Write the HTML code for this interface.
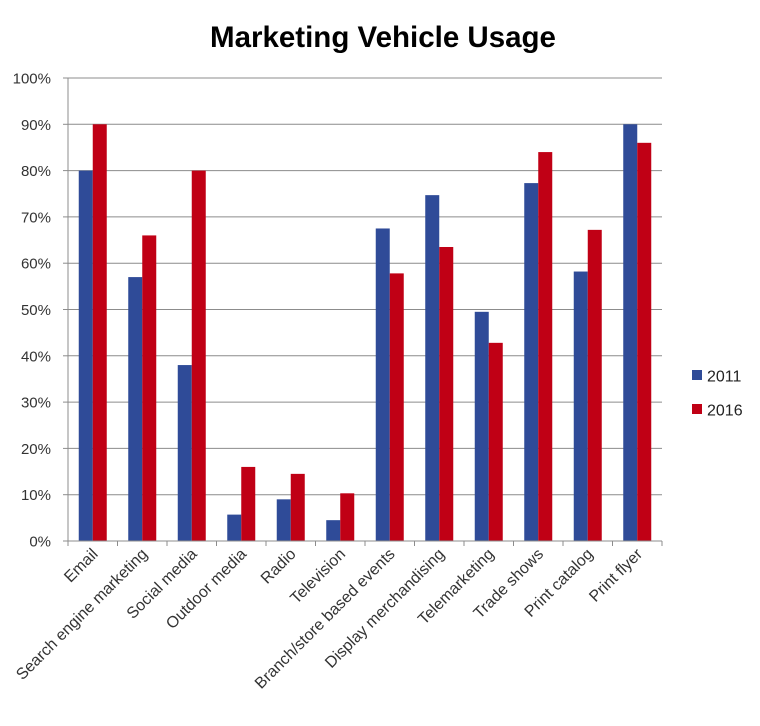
<!DOCTYPE html>
<html><head><meta charset="utf-8"><style>
html,body{margin:0;padding:0;background:#fff;}
svg{display:block;font-family:"Liberation Sans",sans-serif;}
</style></head><body>
<svg id="chart" width="760" height="726" viewBox="0 0 760 726">
<text x="383" y="47" text-anchor="middle" font-size="29.5" font-weight="bold" fill="#000">Marketing Vehicle Usage</text>
<g id="grid"></g>
<g id="bars"></g>
<g id="axes"></g>
<g>
<rect x="692" y="370" width="10" height="10" fill="#2f4b98"/>
<text x="707" y="381.5" font-size="16" fill="#222">2011</text>
<rect x="692" y="404" width="10" height="10" fill="#c00015"/>
<text x="707" y="415.5" font-size="16" fill="#222">2016</text>
</g>
</svg>
<script>
const categories = ["Email","Search engine marketing","Social media","Outdoor media","Radio","Television","Branch/store based events","Display merchandising","Telemarketing","Trade shows","Print catalog","Print flyer"];
const series2011 = [80, 57, 38, 5.7, 9, 4.5, 67.5, 74.7, 49.5, 77.3, 58.2, 90];
const series2016 = [90, 66, 80, 16, 14.5, 10.3, 57.8, 63.5, 42.8, 84, 67.2, 86];
const yTicks = [0,10,20,30,40,50,60,70,80,90,100];

const NS = "http://www.w3.org/2000/svg";
const plotLeft = 68, plotRight = 662, plotTop = 78, plotBottom = 541;
const step = (plotRight - plotLeft) / categories.length;
const barW = 14;
function y(v){ return plotBottom - (v/100)*(plotBottom-plotTop); }
function x(i){ return plotLeft + step*i + step/2; }
function mk(tag, attrs, parent){ const e=document.createElementNS(NS,tag); for(const k in attrs) e.setAttribute(k,attrs[k]); parent.appendChild(e); return e; }

const gridG = document.getElementById('grid');
const axesG = document.getElementById('axes');
const barsG = document.getElementById('bars');

yTicks.forEach(t=>{
  if(t>0){
    const l = mk('line',{x1:plotLeft,x2:plotRight,y1:y(t),y2:y(t),stroke:'#8c8c8c','stroke-width':1},gridG);
    
    
  }
  const tk = mk('line',{x1:plotLeft-5,x2:plotLeft,y1:y(t),y2:y(t),stroke:'#8c8c8c','stroke-width':1},axesG);
  
  
  const tx = mk('text',{x:51,y:y(t)+5.5,'text-anchor':'end','font-size':15,fill:'#333'},axesG);
  tx.textContent = t+'%';
  
  
});

const ya = mk('line',{x1:plotLeft,x2:plotLeft,y1:plotTop,y2:plotBottom,stroke:'#8c8c8c','stroke-width':1},axesG);


const xa = mk('line',{x1:plotLeft,x2:plotRight,y1:plotBottom,y2:plotBottom,stroke:'#8c8c8c','stroke-width':1},axesG);



for(let i=0;i<=categories.length;i++){
  const tx0 = plotLeft+step*i;
  const t = mk('line',{x1:tx0,x2:tx0,y1:plotBottom,y2:plotBottom+5,stroke:'#8c8c8c','stroke-width':1},axesG);
  
  
}

categories.forEach((c,i)=>{
  const cx = x(i);
  const b1 = mk('rect',{x:cx-barW,y:y(series2011[i]),width:barW,height:plotBottom-y(series2011[i]),fill:'#2f4b98'},barsG);
  
  
  const b2 = mk('rect',{x:cx,y:y(series2016[i]),width:barW,height:plotBottom-y(series2016[i]),fill:'#c00015'},barsG);
  
  
  const lx = cx+6, ly = plotBottom+14;
  const lab = mk('text',{x:lx,y:ly,'text-anchor':'end','font-size':16,fill:'#333',transform:'rotate(-45 '+lx+' '+ly+')'},axesG);
  lab.textContent = c;
  
  
});
</script>
</body></html>
